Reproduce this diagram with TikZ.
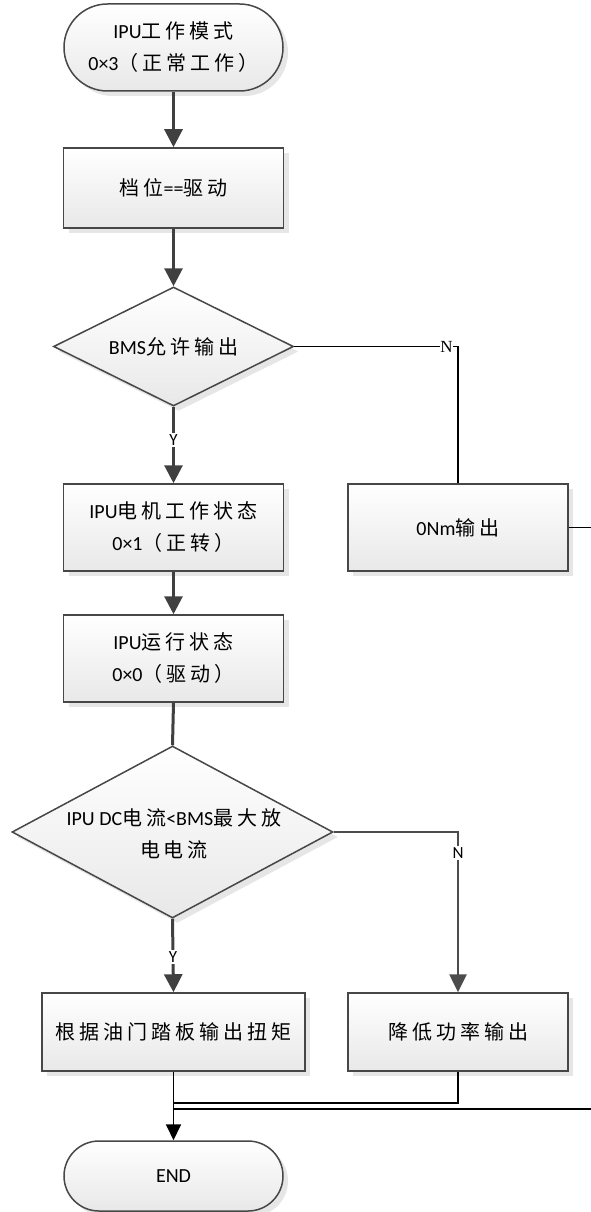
\documentclass[tikz,border=0pt]{standalone}
\usepackage{fontspec}
\setmainfont{Carlito}
\newfontfamily\cjk[LetterSpace=20]{Noto Sans CJK SC}
\newfontfamily\serifN{Liberation Serif}
\newcommand{\zh}[1]{{\cjk #1}}
\usetikzlibrary{shapes.geometric,shapes.misc,shadows,arrows.meta}
\begin{document}
\begin{tikzpicture}[x=1pt,y=-1pt,
  every node/.style={font=\fontsize{20}{32}\selectfont},
  shadebase/.style={top color=white, bottom color=black!9, draw=black!72, line width=1.5pt,
    drop shadow={shadow xshift=5pt,shadow yshift=-5pt,opacity=0.22,fill=black!45}},
  proc/.style={shadebase, rectangle, minimum width=220pt, minimum height=87pt, align=center, inner sep=0pt},
  term/.style={shadebase, rounded rectangle, minimum width=219pt, align=center, inner sep=0pt},
  decide/.style={shadebase, diamond, inner sep=0pt},
  lbl/.style={fill=white, inner sep=1.5pt, font=\fontsize{17}{20}\selectfont},
  mainarrow/.style={draw=black!75, line width=3pt, -{Triangle[length=18pt,width=18pt]}},
  mainline/.style={draw=black!75, line width=3pt},
  thinline/.style={draw=black, line width=1.8pt},
  thinarrow/.style={draw=black, line width=1.8pt, -{Triangle[length=16pt,width=15pt]}},
  grayarrow/.style={draw=black!70, line width=2.6pt, -{Triangle[length=18pt,width=17pt]}}
]
\useasboundingbox (0,0) rectangle (591,1212);

\node[term, minimum height=87pt] (start) at (173.5,47.5) {IPU\zh{工作模式}\\0×3\zh{（正常工作）}};
\node[proc, minimum height=80pt] (s1) at (173.5,188) {\zh{档位}==\zh{驱动}};
\node[decide, minimum width=240pt, minimum height=119pt] (d1) at (173.5,346.5) {};
\node at (d1) {BMS\zh{允许输出}};
\node[proc] (p1) at (173.5,527.5) {IPU\zh{电机工作状态}\\0×1\zh{（正转）}};
\node[proc] (p0) at (458,527.5) {0Nm\zh{输出}};
\node[proc] (p2) at (173.5,658.5) {IPU\zh{运行状态}\\0×0\zh{（驱动）}};
\node[decide, minimum width=321pt, minimum height=172pt] (d2) at (172.5,832) {};
\node[align=center] at (174,834) {IPU DC\zh{电流}<BMS\zh{最大放}\\\zh{电电流}};
\node[proc, minimum width=263pt, minimum height=78pt] (p3) at (173.5,1032) {\zh{根据油门踏板输出扭矩}};
\node[proc, minimum height=78pt] (p4) at (458,1032) {\zh{降低功率输出}};
\node[term, minimum height=70pt] (end) at (173.5,1176) {END};

\draw[mainarrow] (start.south) -- (s1.north);
\draw[mainarrow] (s1.south) -- (d1.north);
\draw[mainarrow] (d1.south) -- node[lbl, pos=0.44] {Y} (p1.north);
\draw[mainarrow] (p1.south) -- (p2.north);
\draw[mainline] (p2.south) -- (d2.north);
\draw[mainarrow] (d2.south) -- node[lbl, pos=0.52] {Y} (p3.north);

\draw[thinline] (d1.east) -- node[lbl, pos=0.93, inner sep=0.5pt, font=\serifN\fontsize{17}{20}\selectfont] {N} (d1.east -| p0.north) -- (p0.north);
\draw[grayarrow] (d2.east) -- (d2.east -| p4.north) -- node[lbl, pos=0.13] {N} (p4.north);

\path (p3.south) ++(0,31) coordinate (j1);
\path (p3.south) ++(0,37) coordinate (j2);
\draw[thinarrow] (p3.south) -- (end.north);
\draw[thinline] (p4.south) |- (j1);
\draw[thinline] (p0.east) -- ++(40,0) |- (j2);
\end{tikzpicture}
\end{document}
